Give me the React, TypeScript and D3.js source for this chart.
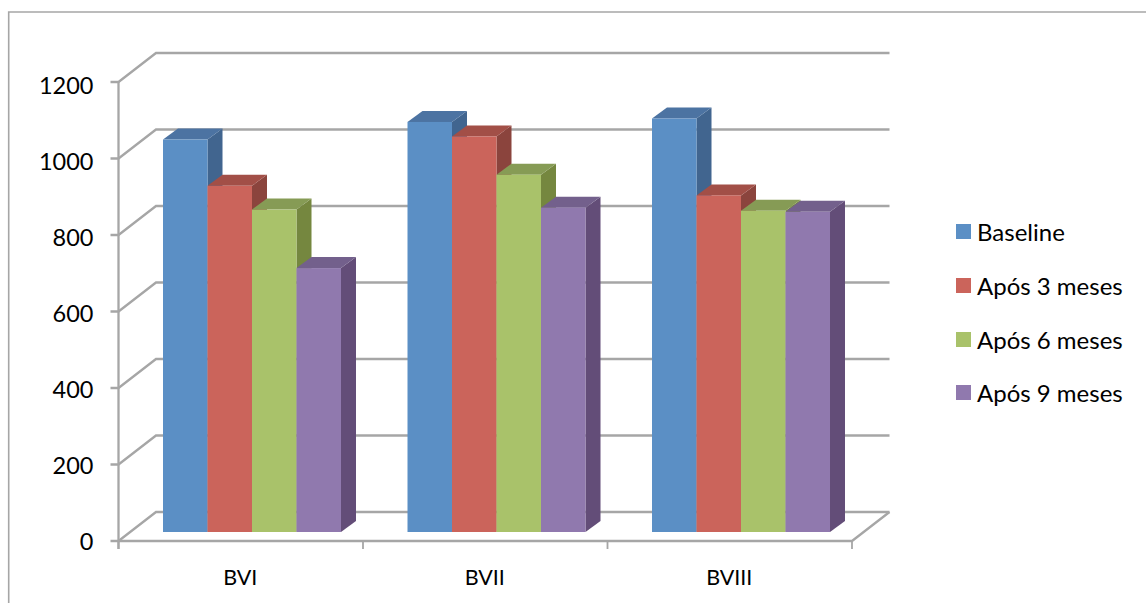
import React from "react";
import * as d3 from "d3";

const categories = ["BVI", "BVII", "BVIII"];
const seriesNames = ["Baseline", "Após 3 meses", "Após 6 meses", "Após 9 meses"];
const baseline = [1026, 1072, 1081];
const apos3 = [905, 1034, 880];
const apos6 = [843, 934, 840];
const apos9 = [690, 848, 837];
const allSeries = [baseline, apos3, apos6, apos9];
const yTicks = [0, 200, 400, 600, 800, 1000, 1200];
const frontColors = ["#5b8fc5", "#cb645b", "#a9c26a", "#9079ae"];
const topColors = ["#4c73a2", "#a24f47", "#869b55", "#73608c"];
const sideColors = ["#41658f", "#8b443d", "#75873f", "#634d78"];

const AX = 118.5, AR = 852, Y0 = 541, Y1200 = 82, DX = 37.5, DY = 29;
const BAR_DX = 15, BAR_DY = 11, BAR_BASE = 532;
const GRID = "#a6a6a6";
const FONT = "Lato, Carlito, sans-serif";

export default function App() {
  const yAxis = d3.scaleLinear().domain([0, 1200]).range([Y0, Y1200]);
  const labelY = d3.scaleLinear().domain([0, 1200]).range([550, 94]);
  const barY = d3.scaleLinear().domain([0, 1200]).range([BAR_BASE, BAR_BASE - (Y0 - Y1200)]);
  const xCat = d3.scaleBand<string>().domain(categories).range([AX, AR]);
  const xSer = d3.scaleBand<string>().domain(seriesNames).range([44.5, 222.5]);
  const bw = xSer.bandwidth();
  return (
    <svg width={1146} height={603} style={{ position: "absolute", left: 0, top: 0, background: "#fff" }} fontFamily={FONT}>
      <path d="M8.7 603V12H1146" fill="none" stroke={GRID} strokeWidth={1.6} />
      {yTicks.map((t) => {
        const y = yAxis(t);
        return (
          <g key={t}>
            <path d={`M${AX - 8} ${y}H${AX}L${AX + DX} ${y - DY}H${AR + DX}`} fill="none" stroke={GRID} strokeWidth={2.3} />
            <text x={93.5} y={labelY(t)} textAnchor="end" fontSize={23.5} fill="#000">{t}</text>
          </g>
        );
      })}
      <path d={`M${AX} ${Y1200}V${Y0 + 8}`} fill="none" stroke={GRID} strokeWidth={2.3} />
      <path d={`M${AX} ${Y0}H${AR}L${AR + DX} ${Y0 - DY}`} fill="none" stroke={GRID} strokeWidth={2.3} />
      {[...categories.map((c) => xCat(c)!), AR].map((x, i) => (
        <line key={i} x1={x} x2={x} y1={Y0} y2={Y0 + 8} stroke={GRID} strokeWidth={1.8} />
      ))}
      {categories.map((c) => (
        <text key={c} x={xCat(c)! + xCat.bandwidth() / 2 - 0.5} y={585} textAnchor="middle" fontSize={21.5} fill="#000">{c}</text>
      ))}
      {categories.map((c, ci) => (
        <g key={c}>
          {seriesNames.map((s, si) => {
            const x0 = xCat(c)! + xSer(s)!;
            const x1 = x0 + bw;
            const top = barY(allSeries[si][ci]);
            return (
              <g key={s}>
                <path d={`M${x1} ${top}L${x1 + BAR_DX} ${top - BAR_DY}V${BAR_BASE - BAR_DY}L${x1} ${BAR_BASE}Z`} fill={sideColors[si]} />
                <path d={`M${x0} ${top}L${x0 + BAR_DX} ${top - BAR_DY}H${x1 + BAR_DX}L${x1} ${top}Z`} fill={topColors[si]} />
                <rect x={x0} y={top} width={bw} height={BAR_BASE - top} fill={frontColors[si]} />
              </g>
            );
          })}
        </g>
      ))}
      {seriesNames.map((s, i) => {
        const y = [224, 278, 332, 385][i];
        return (
          <g key={s}>
            <rect x={956} y={y} width={15} height={15} fill={frontColors[i]} />
            <text x={977} y={y + 17} fontSize={24} fill="#000">{s}</text>
          </g>
        );
      })}
    </svg>
  );
}
